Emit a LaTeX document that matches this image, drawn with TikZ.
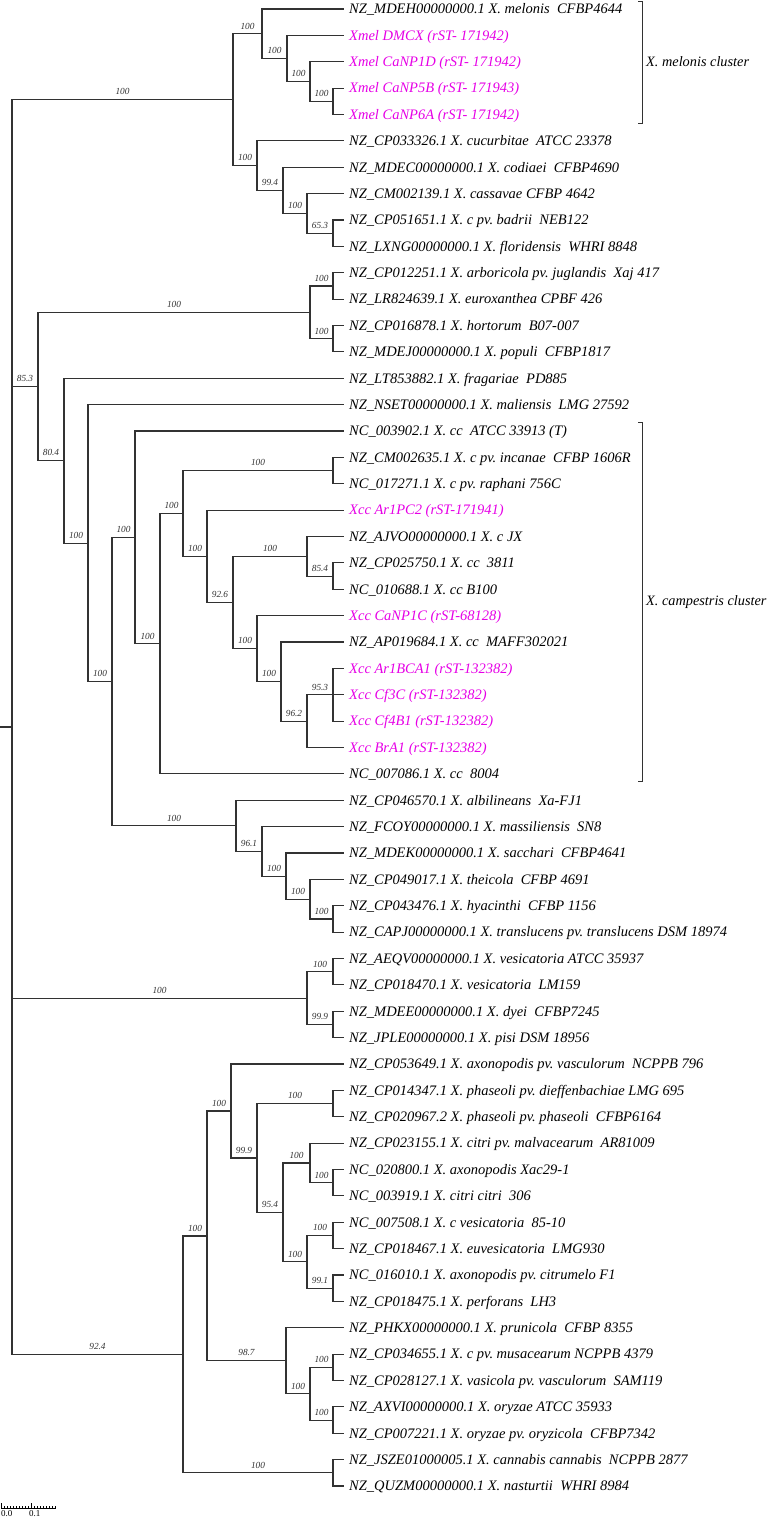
\documentclass[tikz,border=0pt]{standalone}
\usepackage{fontspec}
\setmainfont{Liberation Serif}
\usetikzlibrary{positioning}
\definecolor{isolate}{RGB}{230,0,230}
\definecolor{treeline}{RGB}{50,50,50}
\frenchspacing

\begin{document}
\begin{tikzpicture}[
    x=1pt,
    y=-1pt,
    branch/.style={line width=1.2pt, treeline},
    tip/.style={anchor=west, inner xsep=5pt, inner ysep=0pt, text height=9.5pt, text depth=0pt,
        font=\fontsize{14.5}{16}\selectfont\itshape},
    ours/.style={tip, text=isolate},
    boot/.style={above=3pt, inner sep=1pt, text=treeline, font=\fontsize{9.3}{10}\selectfont\itshape},
    clade/.style={anchor=west, inner sep=0pt, font=\fontsize{14.3}{16}\selectfont\itshape},
    bracket/.style={line width=0.9pt, treeline}
]
\useasboundingbox (0,0) rectangle (769,1519);

% Tip position of all leaves
\def\tipx{344}

% =========================
% Leaves
% =========================
\node[tip]  (l1)  at (\tipx,9)       {NZ\_MDEH00000000.1 X. melonis~~CFBP4644};
\node[ours] (l2)  at (\tipx,35.375)  {Xmel DMCX (rST- 171942)};
\node[ours] (l3)  at (\tipx,61.75)   {Xmel CaNP1D (rST- 171942)};
\node[ours] (l4)  at (\tipx,88.125)  {Xmel CaNP5B (rST- 171943)};
\node[ours] (l5)  at (\tipx,114.5)   {Xmel CaNP6A (rST- 171942)};
\node[tip]  (l6)  at (\tipx,140.875) {NZ\_CP033326.1 X. cucurbitae~~ATCC 23378};
\node[tip]  (l7)  at (\tipx,167.25)  {NZ\_MDEC00000000.1 X. codiaei~~CFBP4690};
\node[tip]  (l8)  at (\tipx,193.625) {NZ\_CM002139.1 X. cassavae CFBP 4642};
\node[tip]  (l9)  at (\tipx,220)     {NZ\_CP051651.1 X. c pv. badrii~~NEB122};
\node[tip]  (l10) at (\tipx,246.375) {NZ\_LXNG00000000.1 X. floridensis~~WHRI 8848};
\node[tip]  (l11) at (\tipx,272.75)  {NZ\_CP012251.1 X. arboricola pv. juglandis~~Xaj 417};
\node[tip]  (l12) at (\tipx,299.125) {NZ\_LR824639.1 X. euroxanthea CPBF 426};
\node[tip]  (l13) at (\tipx,325.5)   {NZ\_CP016878.1 X. hortorum~~B07-007};
\node[tip]  (l14) at (\tipx,351.875) {NZ\_MDEJ00000000.1 X. populi~~CFBP1817};
\node[tip]  (l15) at (\tipx,378.25)  {NZ\_LT853882.1 X. fragariae~~PD885};
\node[tip]  (l16) at (\tipx,404.625) {NZ\_NSET00000000.1 X. maliensis~~LMG 27592};
\node[tip]  (l17) at (\tipx,431)     {NC\_003902.1 X. cc~~ATCC 33913 (T)};
\node[tip]  (l18) at (\tipx,457.375) {NZ\_CM002635.1 X. c pv. incanae~~CFBP 1606R};
\node[tip]  (l19) at (\tipx,483.75)  {NC\_017271.1 X. c pv. raphani 756C};
\node[ours] (l20) at (\tipx,510.125) {Xcc Ar1PC2 (rST-171941)};
\node[tip]  (l21) at (\tipx,536.5)   {NZ\_AJVO00000000.1 X. c JX};
\node[tip]  (l22) at (\tipx,562.875) {NZ\_CP025750.1 X. cc~~3811};
\node[tip]  (l23) at (\tipx,589.25)  {NC\_010688.1 X. cc B100};
\node[ours] (l24) at (\tipx,615.625) {Xcc CaNP1C (rST-68128)};
\node[tip]  (l25) at (\tipx,642)     {NZ\_AP019684.1 X. cc~~MAFF302021};
\node[ours] (l26) at (\tipx,668.375) {Xcc Ar1BCA1 (rST-132382)};
\node[ours] (l27) at (\tipx,694.75)  {Xcc Cf3C (rST-132382)};
\node[ours] (l28) at (\tipx,721.125) {Xcc Cf4B1 (rST-132382)};
\node[ours] (l29) at (\tipx,747.5)   {Xcc BrA1 (rST-132382)};
\node[tip]  (l30) at (\tipx,773.875) {NC\_007086.1 X. cc~~8004};
\node[tip]  (l31) at (\tipx,800.25)  {NZ\_CP046570.1 X. albilineans~~Xa-FJ1};
\node[tip]  (l32) at (\tipx,826.625) {NZ\_FCOY00000000.1 X. massiliensis~~SN8};
\node[tip]  (l33) at (\tipx,853)     {NZ\_MDEK00000000.1 X. sacchari~~CFBP4641};
\node[tip]  (l34) at (\tipx,879.375) {NZ\_CP049017.1 X. theicola~~CFBP 4691};
\node[tip]  (l35) at (\tipx,905.75)  {NZ\_CP043476.1 X. hyacinthi~~CFBP 1156};
\node[tip]  (l36) at (\tipx,932.125) {NZ\_CAPJ00000000.1 X. translucens pv. translucens DSM 18974};
\node[tip]  (l37) at (\tipx,958.5)   {NZ\_AEQV00000000.1 X. vesicatoria ATCC 35937};
\node[tip]  (l38) at (\tipx,984.875) {NZ\_CP018470.1 X. vesicatoria~~LM159};
\node[tip]  (l39) at (\tipx,1011.25) {NZ\_MDEE00000000.1 X. dyei~~CFBP7245};
\node[tip]  (l40) at (\tipx,1037.625){NZ\_JPLE00000000.1 X. pisi DSM 18956};
\node[tip]  (l41) at (\tipx,1064)    {NZ\_CP053649.1 X. axonopodis pv. vasculorum~~NCPPB 796};
\node[tip]  (l42) at (\tipx,1090.375){NZ\_CP014347.1 X. phaseoli pv. dieffenbachiae LMG 695};
\node[tip]  (l43) at (\tipx,1116.75) {NZ\_CP020967.2 X. phaseoli pv. phaseoli~~CFBP6164};
\node[tip]  (l44) at (\tipx,1143.125){NZ\_CP023155.1 X. citri pv. malvacearum~~AR81009};
\node[tip]  (l45) at (\tipx,1169.5)  {NC\_020800.1 X. axonopodis Xac29-1};
\node[tip]  (l46) at (\tipx,1195.875){NC\_003919.1 X. citri citri~~306};
\node[tip]  (l47) at (\tipx,1222.25) {NC\_007508.1 X. c vesicatoria~~85-10};
\node[tip]  (l48) at (\tipx,1248.625){NZ\_CP018467.1 X. euvesicatoria~~LMG930};
\node[tip]  (l49) at (\tipx,1275)    {NC\_016010.1 X. axonopodis pv. citrumelo F1};
\node[tip]  (l50) at (\tipx,1301.375){NZ\_CP018475.1 X. perforans~~LH3};
\node[tip]  (l51) at (\tipx,1327.75) {NZ\_PHKX00000000.1 X. prunicola~~CFBP 8355};
\node[tip]  (l52) at (\tipx,1354.125){NZ\_CP034655.1 X. c pv. musacearum NCPPB 4379};
\node[tip]  (l53) at (\tipx,1380.5)  {NZ\_CP028127.1 X. vasicola pv. vasculorum~~SAM119};
\node[tip]  (l54) at (\tipx,1406.875){NZ\_AXVI00000000.1 X. oryzae ATCC 35933};
\node[tip]  (l55) at (\tipx,1433.25) {NZ\_CP007221.1 X. oryzae pv. oryzicola~~CFBP7342};
\node[tip]  (l56) at (\tipx,1459.625){NZ\_JSZE01000005.1 X. cannabis cannabis~~NCPPB 2877};
\node[tip]  (l57) at (\tipx,1486)    {NZ\_QUZM00000000.1 X. nasturtii~~WHRI 8984};

% =========================
% Internal nodes
% =========================
\coordinate (stub) at (0,727);
\coordinate (root) at (12,727);
% melonis / cucurbitae group
\coordinate (A)  at (233,99.6);
\coordinate (m1) at (262,33.7);
\coordinate (m2) at (287,58.4);
\coordinate (m3) at (310,81.5);
\coordinate (m4) at (333,101.3);
\coordinate (c1) at (257,165.6);
\coordinate (c2) at (283,190.3);
\coordinate (c3) at (307,213.4);
\coordinate (c4) at (333,233.2);
% arboricola / campestris / translucens group
\coordinate (B)  at (38,386.5);
\coordinate (a0) at (310,312.3);
\coordinate (a1) at (333,285.9);
\coordinate (a2) at (333,338.7);
\coordinate (w)  at (64,460.7);
\coordinate (v)  at (88,543.1);
\coordinate (u)  at (112,681.6);
\coordinate (s0) at (135,537.3);
\coordinate (s1) at (160,643.7);
\coordinate (k0) at (183,513.5);
\coordinate (k1) at (333,470.6);
\coordinate (r0) at (207,556.3);
\coordinate (r1) at (233,602.5);
\coordinate (p0) at (307,556.3);
\coordinate (p1) at (333,576.1);
\coordinate (q0) at (257,648.6);
\coordinate (q1) at (281,681.6);
\coordinate (q2) at (307,721.1);
\coordinate (q3) at (333,694.75);
\coordinate (t0) at (236,825.8);
\coordinate (t1) at (262,851.4);
\coordinate (t2) at (286,876.1);
\coordinate (t3) at (310,899.2);
\coordinate (t4) at (333,918.9);
% vesicatoria group
\coordinate (E)  at (307,998.1);
\coordinate (e1) at (333,971.7);
\coordinate (e2) at (333,1024.4);
% axonopodis / oryzae group
\coordinate (R2) at (183,1354.4);
\coordinate (F0) at (207,1235.9);
\coordinate (F1) at (231,1111);
\coordinate (f0) at (257,1158);
\coordinate (f1) at (333,1103.6);
\coordinate (g0) at (283,1212.4);
\coordinate (g1) at (310,1162.9);
\coordinate (g2) at (333,1182.7);
\coordinate (h0) at (307,1261.8);
\coordinate (h1) at (333,1235.4);
\coordinate (h2) at (333,1288.2);
\coordinate (P)  at (286,1360.7);
\coordinate (o0) at (310,1393.7);
\coordinate (o1) at (333,1367.3);
\coordinate (o2) at (333,1420.1);
\coordinate (j)  at (333,1472.8);

% =========================
% Branches
% =========================
\draw[branch] (stub) -- (root);
\draw[branch] (root) |- node[boot,pos=.75] {100}  (A);
\draw[branch] (root) |- node[boot,pos=.75] {85.3} (B);
\draw[branch] (root) |- node[boot,pos=.75] {100}  (E);
\draw[branch] (root) |- node[boot,pos=.75] {92.4} (R2);

% melonis cluster
\draw[branch] (A)  |- node[boot,pos=.75] {100} (m1);
\draw[branch] (m1) |- (l1.west);
\draw[branch] (m1) |- node[boot,pos=.75] {100} (m2);
\draw[branch] (m2) |- (l2.west);
\draw[branch] (m2) |- node[boot,pos=.75] {100} (m3);
\draw[branch] (m3) |- (l3.west);
\draw[branch] (m3) |- node[boot,pos=.75] {100} (m4);
\draw[branch] (m4) |- (l4.west);
\draw[branch] (m4) |- (l5.west);

% cucurbitae .. floridensis
\draw[branch] (A)  |- node[boot,pos=.75] {100} (c1);
\draw[branch] (c1) |- (l6.west);
\draw[branch] (c1) |- node[boot,pos=.75] {99.4} (c2);
\draw[branch] (c2) |- (l7.west);
\draw[branch] (c2) |- node[boot,pos=.75] {100} (c3);
\draw[branch] (c3) |- (l8.west);
\draw[branch] (c3) |- node[boot,pos=.75] {65.3} (c4);
\draw[branch] (c4) |- (l9.west);
\draw[branch] (c4) |- (l10.west);

% arboricola .. populi
\draw[branch] (B)  |- node[boot,pos=.75] {100} (a0);
\draw[branch] (a0) |- node[boot,pos=.75] {100} (a1);
\draw[branch] (a0) |- node[boot,pos=.75] {100} (a2);
\draw[branch] (a1) |- (l11.west);
\draw[branch] (a1) |- (l12.west);
\draw[branch] (a2) |- (l13.west);
\draw[branch] (a2) |- (l14.west);

% fragariae, maliensis
\draw[branch] (B)  |- node[boot,pos=.75] {80.4} (w);
\draw[branch] (w)  |- (l15.west);
\draw[branch] (w)  |- node[boot,pos=.75] {100} (v);
\draw[branch] (v)  |- (l16.west);
\draw[branch] (v)  |- node[boot,pos=.75] {100} (u);

% campestris cluster
\draw[branch] (u)  |- node[boot,pos=.75] {100} (s0);
\draw[branch] (s0) |- (l17.west);
\draw[branch] (s0) |- node[boot,pos=.75] {100} (s1);
\draw[branch] (s1) |- node[boot,pos=.75] {100} (k0);
\draw[branch] (s1) |- (l30.west);
\draw[branch] (k0) |- node[boot,pos=.75] {100} (k1);
\draw[branch] (k1) |- (l18.west);
\draw[branch] (k1) |- (l19.west);
\draw[branch] (k0) |- node[boot,pos=.75] {100} (r0);
\draw[branch] (r0) |- (l20.west);
\draw[branch] (r0) |- node[boot,pos=.75] {92.6} (r1);
\draw[branch] (r1) |- node[boot,pos=.75] {100} (p0);
\draw[branch] (p0) |- (l21.west);
\draw[branch] (p0) |- node[boot,pos=.75] {85.4} (p1);
\draw[branch] (p1) |- (l22.west);
\draw[branch] (p1) |- (l23.west);
\draw[branch] (r1) |- node[boot,pos=.75] {100} (q0);
\draw[branch] (q0) |- (l24.west);
\draw[branch] (q0) |- node[boot,pos=.75] {100} (q1);
\draw[branch] (q1) |- (l25.west);
\draw[branch] (q1) |- node[boot,pos=.75] {96.2} (q2);
\draw[branch] (q2) |- node[boot,pos=.75] {95.3} (q3);
\draw[branch] (q2) |- (l29.west);
\draw[branch] (q3) |- (l26.west);
\draw[branch] (q3) |- (l27.west);
\draw[branch] (q3) |- (l28.west);

% albilineans .. translucens
\draw[branch] (u)  |- node[boot,pos=.75] {100} (t0);
\draw[branch] (t0) |- (l31.west);
\draw[branch] (t0) |- node[boot,pos=.75] {96.1} (t1);
\draw[branch] (t1) |- (l32.west);
\draw[branch] (t1) |- node[boot,pos=.75] {100} (t2);
\draw[branch] (t2) |- (l33.west);
\draw[branch] (t2) |- node[boot,pos=.75] {100} (t3);
\draw[branch] (t3) |- (l34.west);
\draw[branch] (t3) |- node[boot,pos=.75] {100} (t4);
\draw[branch] (t4) |- (l35.west);
\draw[branch] (t4) |- (l36.west);

% vesicatoria .. pisi
\draw[branch] (E)  |- node[boot,pos=.75] {100}  (e1);
\draw[branch] (E)  |- node[boot,pos=.75] {99.9} (e2);
\draw[branch] (e1) |- (l37.west);
\draw[branch] (e1) |- (l38.west);
\draw[branch] (e2) |- (l39.west);
\draw[branch] (e2) |- (l40.west);

% axonopodis .. perforans
\draw[branch] (R2) |- node[boot,pos=.75] {100} (F0);
\draw[branch] (F0) |- node[boot,pos=.75] {100} (F1);
\draw[branch] (F1) |- (l41.west);
\draw[branch] (F1) |- node[boot,pos=.75] {99.9} (f0);
\draw[branch] (f0) |- node[boot,pos=.75] {100} (f1);
\draw[branch] (f1) |- (l42.west);
\draw[branch] (f1) |- (l43.west);
\draw[branch] (f0) |- node[boot,pos=.75] {95.4} (g0);
\draw[branch] (g0) |- node[boot,pos=.75] {100} (g1);
\draw[branch] (g1) |- (l44.west);
\draw[branch] (g1) |- node[boot,pos=.75] {100} (g2);
\draw[branch] (g2) |- (l45.west);
\draw[branch] (g2) |- (l46.west);
\draw[branch] (g0) |- node[boot,pos=.75] {100} (h0);
\draw[branch] (h0) |- node[boot,pos=.75] {100} (h1);
\draw[branch] (h1) |- (l47.west);
\draw[branch] (h1) |- (l48.west);
\draw[branch] (h0) |- node[boot,pos=.75] {99.1} (h2);
\draw[branch] (h2) |- (l49.west);
\draw[branch] (h2) |- (l50.west);

% prunicola .. oryzae
\draw[branch] (F0) |- node[boot,pos=.75] {98.7} (P);
\draw[branch] (P)  |- (l51.west);
\draw[branch] (P)  |- node[boot,pos=.75] {100} (o0);
\draw[branch] (o0) |- node[boot,pos=.75] {100} (o1);
\draw[branch] (o0) |- node[boot,pos=.75] {100} (o2);
\draw[branch] (o1) |- (l52.west);
\draw[branch] (o1) |- (l53.west);
\draw[branch] (o2) |- (l54.west);
\draw[branch] (o2) |- (l55.west);

% cannabis, nasturtii
\draw[branch] (R2) |- node[boot,pos=.75] {100} (j);
\draw[branch] (j)  |- (l56.west);
\draw[branch] (j)  |- (l57.west);

% =========================
% Cluster brackets
% =========================
\coordinate (melTop) at (642,1);
\coordinate (melBot) at (642,123);
\draw[bracket] ([xshift=-4pt]melTop) -- (melTop) -- (melBot) -- ([xshift=-4pt]melBot);
\node[clade] (melClus) at (646,62) {X. melonis cluster};

\coordinate (campTop) at (642,422);
\coordinate (campBot) at (642,781);
\draw[bracket] ([xshift=-4pt]campTop) -- (campTop) -- (campBot) -- ([xshift=-4pt]campBot);
\node[clade] (campClus) at (646,602) {X. campestris cluster};

% =========================
% Scale bar
% =========================
\coordinate (sbL) at (1,1508);
\coordinate (sbR) at (56,1508);
\draw[line width=0.7pt] (sbL) -- (sbR);
\foreach \t in {4,7,...,55}
    \draw[line width=0.5pt] (\t,1508) -- (\t,1505.5);
\draw[line width=0.7pt] (1,1508) -- (1,1503);
\draw[line width=0.7pt] (31,1508) -- (31,1503);
\node[anchor=north west, inner sep=0pt, font=\fontsize{9}{10}\selectfont] (sb0) at (1,1510) {0.0};
\node[anchor=north west, inner sep=0pt, font=\fontsize{9}{10}\selectfont] (sb1) at (29,1510) {0.1};

\end{tikzpicture}
\end{document}
